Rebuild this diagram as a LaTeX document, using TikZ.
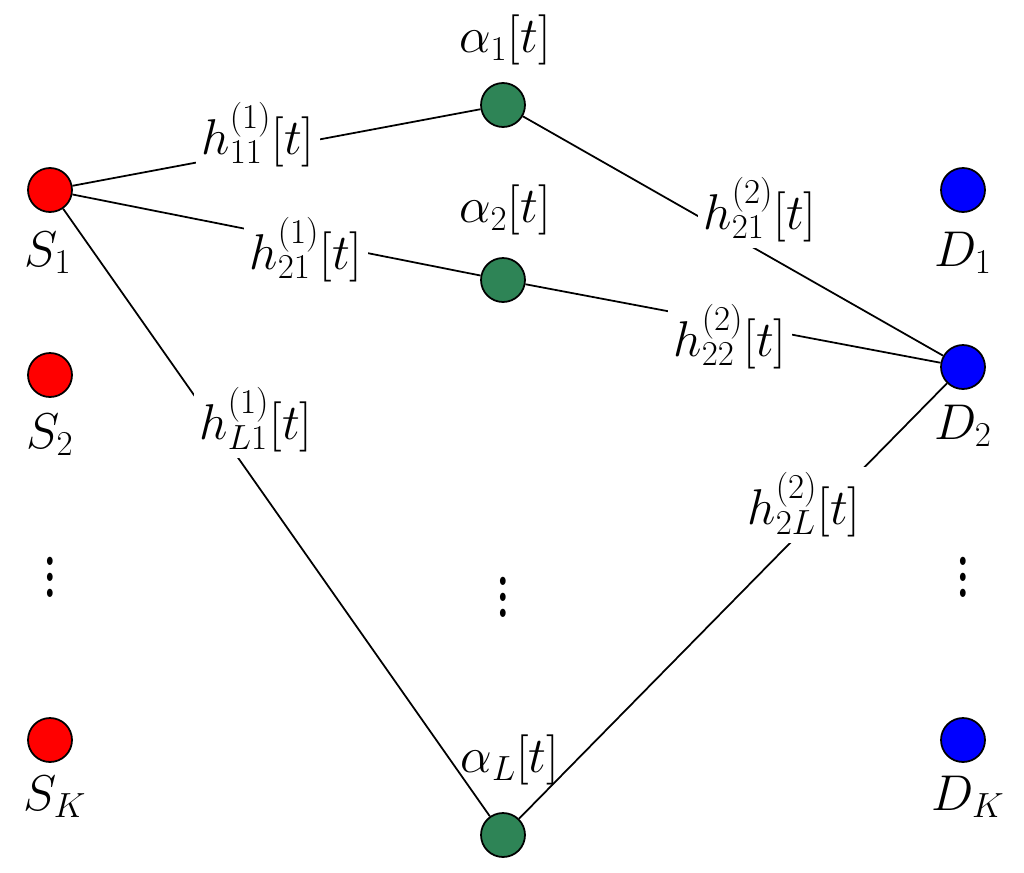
\documentclass[tikz,border=0pt]{standalone}
\newcommand\bgt[1]{\scalebox{1.15}{#1}}
\begin{document}
\begin{tikzpicture}[x=0.02cm,y=-0.02cm,
  dot/.style={circle,draw=black,line width=1pt,minimum size=0.88cm,inner sep=0pt},
  lab/.style={font=\fontsize{25}{30}\selectfont,inner sep=1pt},
  elab/.style={lab,fill=white,inner sep=3pt},
  ln/.style={line width=1pt}]
\useasboundingbox (0,0) rectangle (1024,872);
\definecolor{rel}{RGB}{46,132,86}
\node[dot,fill=red] (s1) at (50,190) {};
\node[dot,fill=red] (s2) at (50,375) {};
\node[dot,fill=red] (sk) at (50,740) {};
\node[dot,fill=rel] (a1) at (503,105) {};
\node[dot,fill=rel] (a2) at (503,280) {};
\node[dot,fill=rel] (al) at (503,835) {};
\node[dot,fill=blue] (d1) at (963,190) {};
\node[dot,fill=blue] (d2) at (963,367) {};
\node[dot,fill=blue] (dk) at (963,740) {};
\draw[ln] (s1) -- (a1);
\draw[ln] (s1) -- (a2);
\draw[ln] (s1) -- (al);
\draw[ln] (a1) -- (d2);
\draw[ln] (a2) -- (d2);
\draw[ln] (al) -- (d2);
\node[lab] (ls1) at (48,253) {\bgt{$S_1$}};
\node[lab] (ls2) at (50,435) {\bgt{$S_2$}};
\node[lab] (lsk) at (55,797) {\bgt{$S_K$}};
\node[lab] (ld1) at (963,253) {\bgt{$D_1$}};
\node[lab] (ld2) at (963,426) {\bgt{$D_2$}};
\node[lab] (ldk) at (968,797) {\bgt{$D_K$}};
\node[lab] (la1) at (505,40) {\bgt{$\alpha_1[t]$}};
\node[lab] (la2) at (505,210) {\bgt{$\alpha_2[t]$}};
\node[lab] (lal) at (510,760) {\bgt{$\alpha_L[t]$}};
\node[lab] (v1) at (50,565) {\scalebox{1.6}[2.3]{$\vdots$}};
\node[lab] (v2) at (503,585) {\scalebox{1.6}[2.3]{$\vdots$}};
\node[lab] (v3) at (963,565) {\scalebox{1.6}[2.3]{$\vdots$}};
\node[elab] (e1) at (258,135) {\bgt{$h^{(1)}_{11}[t]$}};
\node[elab] (e2) at (306,250) {\bgt{$h^{(1)}_{21}[t]$}};
\node[elab] (e3) at (256,420) {\bgt{$h^{(1)}_{L1}[t]$}};
\node[elab] (e4) at (760,210) {\bgt{$h^{(2)}_{21}[t]$}};
\node[elab] (e5) at (730,337) {\bgt{$h^{(2)}_{22}[t]$}};
\node[elab] (e6) at (804,505) {\bgt{$h^{(2)}_{2L}[t]$}};
\end{tikzpicture}
\end{document}
